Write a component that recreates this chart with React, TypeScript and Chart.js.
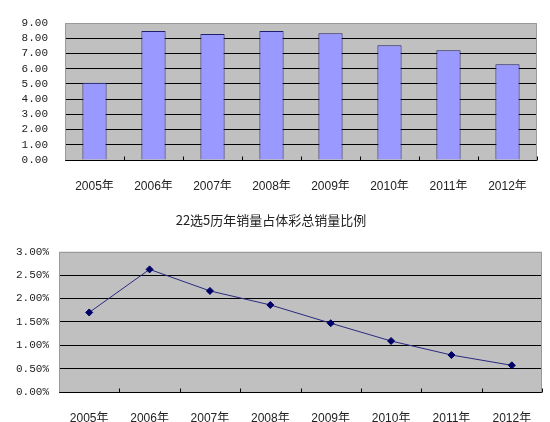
import { useEffect, useRef } from "react"
import { Chart, type ChartConfiguration, type Plugin, registerables } from "chart.js"

Chart.register(...registerables)

const years = ["2005年", "2006年", "2007年", "2008年", "2009年", "2010年", "2011年", "2012年"]
// 22选5 yearly sales (top chart)
const salesValues = [5.08, 8.48, 8.27, 8.48, 8.33, 7.54, 7.21, 6.29]
// share of total sports lottery sales, in percent
const shareValues = [1.7, 2.62, 2.16, 1.86, 1.47, 1.09, 0.79, 0.57]
const chartTitle = "22选5历年销量占体彩总销量比例"

const labelFont = { family: "'Liberation Sans', 'Noto Sans CJK SC', sans-serif", size: 12 }
const monoFont = { family: "'Liberation Mono', 'DejaVu Sans Mono', monospace", size: 11, lineHeight: 1 }

// grey plot background, grey frame and the little inside ticks on the category axis
const framePlugin: Plugin = {
  id: "frame",
  beforeDraw(chart) {
    const { ctx, chartArea } = chart
    ctx.save()
    ctx.fillStyle = "#c0c0c0"
    ctx.fillRect(chartArea.left, chartArea.top, chartArea.right - chartArea.left, chartArea.bottom - chartArea.top)
    ctx.restore()
  },
  beforeDatasetsDraw(chart) {
    const { ctx, chartArea } = chart
    const x = chart.scales.x
    const l = Math.round(chartArea.left) + 0.5
    const r = Math.round(chartArea.right) - 0.5
    const t = Math.round(chartArea.top) + 0.5
    const b = Math.round(chartArea.bottom) + 0.5
    ctx.save()
    ctx.lineWidth = 1
    ctx.strokeStyle = "#999999"
    ctx.beginPath()
    ctx.moveTo(l, b)
    ctx.lineTo(l, t)
    ctx.lineTo(r, t)
    ctx.lineTo(r, b)
    ctx.stroke()

    ctx.strokeStyle = "#000000"
    ctx.beginPath()
    ctx.moveTo(l, b)
    ctx.lineTo(r, b)
    const step = x.getPixelForValue(1) - x.getPixelForValue(0)
    for (let i = 1; i <= years.length; i++) {
      const px = Math.round(x.getPixelForValue(i) - step / 2) + 0.5
      ctx.moveTo(px, b)
      ctx.lineTo(px, b - 4)
    }
    ctx.stroke()
    ctx.restore()
  },
}

function BarPanel() {
  const chartRef = useRef<HTMLCanvasElement>(null)
  const chartInstanceRef = useRef<Chart | null>(null)

  useEffect(() => {
    if (!chartRef.current) return
    const ctx = chartRef.current.getContext("2d")
    if (!ctx) return
    if (chartInstanceRef.current) chartInstanceRef.current.destroy()

    const config: ChartConfiguration = {
      type: "bar",
      data: {
        labels: years,
        datasets: [
          {
            data: salesValues,
            backgroundColor: "#9999ff",
            borderColor: "#1f1f6b",
            borderWidth: 1,
            barPercentage: 0.41,
            categoryPercentage: 1,
          },
        ],
      },
      options: {
        responsive: true,
        maintainAspectRatio: false,
        animation: false,
        layout: { padding: { top: 23, right: 13, left: 0, bottom: 0 } },
        plugins: { legend: { display: false }, tooltip: { enabled: false } },
        scales: {
          x: {
            grid: { display: false },
            border: { display: false },
            ticks: { font: labelFont, color: "#222", padding: 11, maxRotation: 0 },
            afterFit: (scale) => {
              scale.height = 30
            },
          },
          y: {
            min: 0,
            max: 9,
            grid: {
              drawTicks: false,
              color: (c) => (c.tick && c.tick.value === 9 ? "rgba(0,0,0,0)" : "#000000"),
            },
            border: { display: false },
            ticks: {
              stepSize: 1,
              autoSkip: false,
              font: monoFont,
              color: "#222",
              padding: 17,
              callback: (v) => Number(v).toFixed(2),
            },
            afterFit: (scale) => {
              scale.width = 65
            },
          },
        },
      },
      plugins: [framePlugin],
    }

    chartInstanceRef.current = new Chart(ctx, config)
    return () => {
      if (chartInstanceRef.current) {
        chartInstanceRef.current.destroy()
        chartInstanceRef.current = null
      }
    }
  }, [])

  return (
    <div style={{ position: "absolute", left: 0, top: 0, width: 550, height: 190 }}>
      <canvas ref={chartRef}></canvas>
    </div>
  )
}

function LinePanel() {
  const chartRef = useRef<HTMLCanvasElement>(null)
  const chartInstanceRef = useRef<Chart | null>(null)

  useEffect(() => {
    if (!chartRef.current) return
    const ctx = chartRef.current.getContext("2d")
    if (!ctx) return
    if (chartInstanceRef.current) chartInstanceRef.current.destroy()

    const config: ChartConfiguration = {
      type: "line",
      data: {
        labels: years,
        datasets: [
          {
            data: shareValues,
            borderColor: "#2a2a80",
            borderWidth: 1,
            pointStyle: "rectRot",
            pointRadius: 3.5,
            pointBackgroundColor: "#000066",
            pointBorderColor: "#000066",
            pointBorderWidth: 1,
            tension: 0,
          },
        ],
      },
      options: {
        responsive: true,
        maintainAspectRatio: false,
        animation: false,
        layout: { padding: { top: 0, right: 8, left: 0, bottom: 0 } },
        plugins: {
          legend: { display: false },
          tooltip: { enabled: false },
          title: {
            display: true,
            text: chartTitle,
            color: "#222",
            font: { family: "'Noto Sans CJK SC', sans-serif", size: 13, weight: "normal" },
            padding: { top: 12, bottom: 24 },
          },
        },
        scales: {
          x: {
            offset: true,
            grid: { display: false },
            border: { display: false },
            ticks: { font: labelFont, color: "#222", padding: 11, maxRotation: 0 },
            afterFit: (scale) => {
              scale.height = 30
            },
          },
          y: {
            min: 0,
            max: 3,
            grid: {
              drawTicks: false,
              color: (c) => (c.tick && c.tick.value === 3 ? "rgba(0,0,0,0)" : "#000000"),
            },
            border: { display: false },
            ticks: {
              stepSize: 0.5,
              autoSkip: false,
              font: monoFont,
              color: "#222",
              padding: 10,
              callback: (v) => Number(v).toFixed(2) + "%",
            },
            afterFit: (scale) => {
              scale.width = 59
            },
          },
        },
      },
      plugins: [framePlugin],
    }

    chartInstanceRef.current = new Chart(ctx, config)
    return () => {
      if (chartInstanceRef.current) {
        chartInstanceRef.current.destroy()
        chartInstanceRef.current = null
      }
    }
  }, [])

  return (
    <div style={{ position: "absolute", left: 0, top: 200, width: 550, height: 222 }}>
      <canvas ref={chartRef}></canvas>
    </div>
  )
}

export default function App() {
  return (
    <div style={{ position: "absolute", left: 0, top: 0, width: 550, height: 422, background: "#fff" }}>
      <BarPanel />
      <LinePanel />
    </div>
  )
}
